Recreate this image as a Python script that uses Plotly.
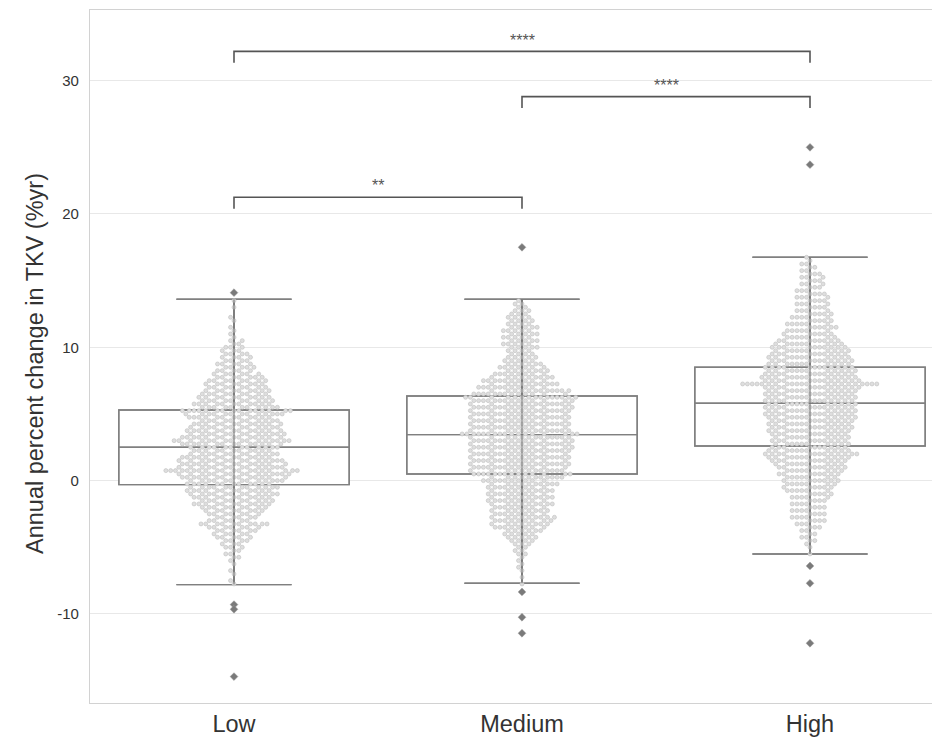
import math
import numpy as np
import plotly.graph_objects as go

# ---------------- data ----------------
categories = ["Low", "Medium", "High"]
y_title = "Annual percent change in TKV (%yr)"

# swarm data as frequency tables: value levels and number of patients at each level
low_levels = [-7.75, -7.5, -7.0, -6.75, -6.25, -6.0, -5.75, -5.5, -5.25, -5.0, -4.75, -4.5, -4.25, -4.0,
              -3.75, -3.5, -3.25, -3.0, -2.75, -2.5, -2.25, -2.0, -1.75, -1.5, -1.25, -1.0, -0.75, -0.5,
              -0.25, 0.0, 0.25, 0.5, 0.75, 1.0, 1.25, 1.5, 1.75, 2.0, 2.25, 2.5, 2.75, 3.0, 3.25, 3.5,
              3.75, 4.0, 4.25, 4.5, 4.75, 5.0, 5.25, 5.5, 5.75, 6.0, 6.25, 6.5, 6.75, 7.0, 7.25, 7.5,
              7.75, 8.0, 8.25, 8.5, 8.75, 9.0, 9.25, 9.5, 9.75, 10.0, 10.25, 10.5, 10.75, 11.0, 11.25,
              11.5, 12.0, 12.25, 13.0, 13.5]
low_counts = [1, 1, 1, 1, 1, 1, 2, 2, 2, 3, 3, 4, 5, 5,
              6, 7, 10, 6, 6, 7, 8, 9, 11, 10, 11, 12, 12, 12,
              12, 13, 14, 15, 19, 14, 14, 14, 13, 12, 11, 12, 14, 16, 14, 13,
              13, 12, 12, 11, 12, 13, 15, 11, 11, 10, 10, 9, 9, 8, 8, 8,
              7, 6, 5, 5, 5, 4, 4, 4, 3, 3, 2, 2, 1, 1, 1,
              1, 1, 1, 1, 1]

med_levels = [-7.75, -7.25, -6.75, -6.5, -6.25, -6.0, -5.75, -5.5, -5.25, -5.0, -4.75, -4.5, -4.25, -4.0,
              -3.75, -3.5, -3.25, -3.0, -2.75, -2.5, -2.25, -2.0, -1.75, -1.5, -1.25, -1.0, -0.75, -0.5,
              -0.25, 0.0, 0.25, 0.5, 0.75, 1.0, 1.25, 1.5, 1.75, 2.0, 2.25, 2.5, 2.75, 3.0, 3.25, 3.5,
              3.75, 4.0, 4.25, 4.5, 4.75, 5.0, 5.25, 5.5, 5.75, 6.0, 6.25, 6.5, 6.75, 7.0, 7.25, 7.5,
              7.75, 8.0, 8.25, 8.5, 8.75, 9.0, 9.25, 9.5, 9.75, 10.0, 10.25, 10.5, 10.75, 11.0, 11.25,
              11.5, 11.75, 12.0, 12.25, 12.5, 12.75, 13.0, 13.25, 13.5]
med_counts = [1, 1, 1, 1, 1, 1, 1, 2, 2, 2, 3, 4, 5, 5,
              6, 8, 8, 9, 9, 8, 8, 8, 9, 9, 9, 9, 9, 9,
              10, 10, 11, 14, 12, 13, 13, 13, 13, 13, 13, 14, 13, 14, 13, 17,
              13, 13, 13, 13, 13, 13, 13, 14, 13, 14, 15, 13, 12, 11, 10, 10,
              9, 8, 7, 7, 6, 5, 5, 4, 4, 5, 5, 5, 5, 5, 5,
              5, 4, 4, 4, 3, 3, 2, 2, 1]

high_levels = [-5.5, -5.0, -4.75, -4.5, -4.25, -4.0, -3.75, -3.5, -3.25, -3.0, -2.75, -2.5, -2.25, -2.0,
               -1.75, -1.5, -1.25, -1.0, -0.75, -0.5, -0.25, 0.0, 0.25, 0.5, 0.75, 1.0, 1.25, 1.5,
               1.75, 2.0, 2.25, 2.5, 2.75, 3.0, 3.25, 3.5, 3.75, 4.0, 4.25, 4.5, 4.75, 5.0, 5.25, 5.5,
               5.75, 6.0, 6.25, 6.5, 6.75, 7.0, 7.25, 7.5, 7.75, 8.0, 8.25, 8.5, 8.75, 9.0, 9.25, 9.5,
               9.75, 10.0, 10.25, 10.5, 10.75, 11.0, 11.25, 11.5, 11.75, 12.0, 12.25, 12.5, 12.75, 13.0,
               13.25, 13.5, 13.75, 14.0, 14.25, 14.5, 14.75, 15.0, 15.25, 15.5, 15.75, 16.0, 16.25,
               16.5, 16.75]
high_counts = [1, 1, 1, 2, 2, 2, 2, 3, 3, 4, 4, 4, 4, 4,
               4, 4, 5, 5, 6, 6, 7, 7, 7, 8, 8, 9, 9, 10,
               11, 13, 11, 10, 10, 10, 10, 10, 11, 11, 11, 11, 12, 12, 12, 12,
               12, 12, 12, 12, 12, 13, 21, 13, 13, 12, 12, 12, 11, 11, 11, 10,
               10, 10, 9, 8, 7, 6, 6, 6, 6, 5, 5, 5, 4, 4,
               4, 4, 4, 4, 3, 3, 3, 3, 3, 3, 2, 2, 2,
               1, 1]

# box-plot statistics
box_q1 = [-0.3, 0.5, 2.6]
box_median = [2.5, 3.45, 5.8]
box_q3 = [5.3, 6.35, 8.5]
box_lowerfence = [-7.8, -7.7, -5.5]
box_upperfence = [13.6, 13.6, 16.75]

# outliers (fliers)
low_fliers = [14.1, -9.3, -9.65, -14.7]
med_fliers = [17.5, -8.35, -10.25, -11.45]
high_fliers = [25.0, 23.7, -6.4, -7.7, -12.2]

# significance brackets
bracket_left = [0, 1, 0]
bracket_right = [1, 2, 2]
bracket_top = [21.25, 28.8, 32.2]
bracket_labels = ["**", "****", "****"]

# y ticks
ytick_vals = [-10, 0, 10, 20, 30]
ytick_text = ["-10", "0", "10", "20", "30"]

# ---------------- layout constants ----------------
BODY = 8                     # default page margin of the html body
W, H = 940 - BODY, 744 - BODY
M_L, M_R, M_T, M_B = 90 - BODY, 0, 10 - BODY, 41
X_RANGE = [-0.5, 2.4514]
Y_RANGE = [-16.68, 35.3]
PLOT_W = W - M_L - M_R
PLOT_H = H - M_T - M_B
px_per_x = PLOT_W / (X_RANGE[1] - X_RANGE[0])
px_per_y = PLOT_H / (Y_RANGE[1] - Y_RANGE[0])

GRAY_TXT = "#333333"
FONT = "Liberation Sans, Arial, sans-serif"


def beeswarm(values, diameter):
    """Greedy swarm layout (like seaborn): returns x offsets in pixels."""
    vals = np.asarray(values, dtype=float)
    order = np.argsort(vals, kind="stable")
    ys = vals * px_per_y
    placed_y, placed_x = [], []
    offsets = np.zeros(len(vals))
    d2 = diameter * diameter
    for idx in order:
        y = ys[idx]
        neigh = []
        j = len(placed_y) - 1
        while j >= 0 and y - placed_y[j] < diameter:
            neigh.append((placed_y[j], placed_x[j]))
            j -= 1
        cands = [0.0]
        for py, px in neigh:
            dy = y - py
            dx = math.sqrt(max(d2 - dy * dy, 0.0))
            cands.append(px + dx)
            cands.append(px - dx)
        cands.sort(key=lambda c: (abs(c), c))
        chosen = 0.0
        for c in cands:
            ok = True
            for py, px in neigh:
                if (c - px) ** 2 + (y - py) ** 2 < d2 - 1e-6:
                    ok = False
                    break
            if ok:
                chosen = c
                break
        placed_y.append(y)
        placed_x.append(chosen)
        offsets[idx] = chosen
    return offsets


fig = go.Figure()

# white box fill (under the points)
fig.add_trace(go.Box(
    x=[0, 1, 2], q1=box_q1, median=box_median, q3=box_q3,
    lowerfence=box_lowerfence, upperfence=box_upperfence,
    width=0.8, whiskerwidth=0.5, fillcolor="white",
    line=dict(color="#808080", width=1.4), boxpoints=False,
    hoverinfo="skip", showlegend=False))

# swarm points
DIAM = 4.8
groups = [(low_levels, low_counts), (med_levels, med_counts), (high_levels, high_counts)]
for gi, (lev, cnt) in enumerate(groups):
    vals = np.repeat(np.asarray(lev, dtype=float), np.asarray(cnt, dtype=int))
    offs = beeswarm(vals, DIAM)
    fig.add_trace(go.Scatter(
        x=gi + offs / px_per_x, y=vals, mode="markers",
        marker=dict(size=4, color="#dedede", line=dict(color="#bdbdbd", width=0.6)),
        hoverinfo="skip", showlegend=False))

# box outline again, on top of points
fig.add_trace(go.Box(
    x=[0, 1, 2], q1=box_q1, median=box_median, q3=box_q3,
    lowerfence=box_lowerfence, upperfence=box_upperfence,
    width=0.8, whiskerwidth=0.5, fillcolor="rgba(0,0,0,0)",
    line=dict(color="#808080", width=1.4), boxpoints=False,
    hoverinfo="skip", showlegend=False))

# whisker line through the whole box
wx, wy = [], []
for i in range(3):
    wx += [i, i, None]
    wy += [box_lowerfence[i], box_upperfence[i], None]
fig.add_trace(go.Scatter(x=wx, y=wy, mode="lines", line=dict(color="#747474", width=1.1),
                         hoverinfo="skip", showlegend=False))

# fliers
for gi, fl in enumerate([low_fliers, med_fliers, high_fliers]):
    fig.add_trace(go.Scatter(
        x=[gi] * len(fl), y=fl, mode="markers",
        marker=dict(symbol="diamond", size=6, color="#7a7a7a", line=dict(color="#9a9a9a", width=0.5)),
        hoverinfo="skip", showlegend=False))

# significance brackets
TICK_DROP = 0.85
TEXT_LIFT = 0.85
for a, b, top, lab in zip(bracket_left, bracket_right, bracket_top, bracket_labels):
    fig.add_trace(go.Scatter(
        x=[a, a, b, b], y=[top - TICK_DROP, top, top, top - TICK_DROP], mode="lines",
        line=dict(color="#555555", width=1.6), hoverinfo="skip", showlegend=False))
    fig.add_annotation(x=(a + b) / 2, y=top + TEXT_LIFT, text=lab, showarrow=False,
                       yanchor="middle", font=dict(size=16, color="#555555", family=FONT))

# y-axis title as a rotated annotation (placed slightly below the plot centre, as in the original)
fig.add_annotation(
    xref="paper", yref="paper", x=-(90 - 35) / PLOT_W, y=(703 - 364) / PLOT_H,
    xanchor="center", yanchor="middle", textangle=-90, showarrow=False,
    text=y_title, font=dict(size=23.5, color=GRAY_TXT, family=FONT))

fig.update_layout(
    width=W, height=H,
    margin=dict(l=M_L, r=M_R, t=M_T, b=M_B, pad=0, autoexpand=False),
    paper_bgcolor="white", plot_bgcolor="white",
    font=dict(family=FONT, color=GRAY_TXT),
    boxmode="overlay",
    showlegend=False,
)
fig.update_xaxes(
    range=X_RANGE, tickmode="array", tickvals=[0, 1, 2], ticktext=categories,
    showgrid=False, zeroline=False, showline=True, linecolor="#d2d2d2", linewidth=1.2,
    mirror=True, ticks="",
    tickfont=dict(size=23.5, color=GRAY_TXT, family=FONT),
)
fig.update_yaxes(
    range=Y_RANGE, tickmode="array", tickvals=ytick_vals, ticktext=ytick_text,
    showgrid=True, gridcolor="#e8e8e8", gridwidth=1, zeroline=False,
    showline=True, linecolor="#d2d2d2", linewidth=1.2, mirror=False,
    ticks="outside", ticklen=7, tickcolor="rgba(0,0,0,0)",
    tickfont=dict(size=15, color=GRAY_TXT, family=FONT),
)

fig.write_html("out.html")
